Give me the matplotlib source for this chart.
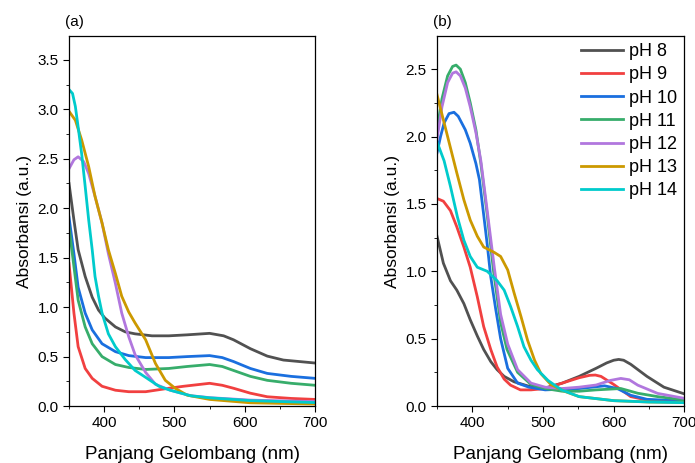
import matplotlib
matplotlib.use('Agg')
import matplotlib.pyplot as plt
from matplotlib.ticker import MultipleLocator, FormatStrFormatter

plt.rcParams.update({
    'font.family': ['Liberation Sans', 'DejaVu Sans'],
    'font.size': 11,
    'axes.linewidth': 0.9,
    'xtick.direction': 'out',
    'ytick.direction': 'out',
    'xtick.major.size': 4,
    'ytick.major.size': 4,
    'xtick.minor.size': 2.5,
    'ytick.minor.size': 2.5,
})

LABELS = ['pH 8', 'pH 9', 'pH 10', 'pH 11', 'pH 12', 'pH 13', 'pH 14']
COLORS = ['#515151', '#F14040', '#1A6FDF', '#37AD6B', '#B177DE', '#CC9900', '#00CBCC']

# Panel (a) spectra: wavelength (nm) and absorbance
a_ph8_x = [350, 357, 363, 373, 383, 392, 401, 416, 430, 444, 468, 492, 518, 550, 570, 584, 608, 632, 655, 700]
a_ph8_y = [2.25, 1.88, 1.58, 1.31, 1.10, 0.97, 0.89, 0.80, 0.75, 0.73, 0.71, 0.71, 0.72, 0.735, 0.71, 0.67, 0.58, 0.505, 0.465, 0.435]

a_ph9_x = [350, 357, 363, 373, 383, 397, 416, 435, 459, 492, 513, 550, 568, 584, 608, 632, 666, 700]
a_ph9_y = [1.44, 0.94, 0.60, 0.38, 0.28, 0.20, 0.16, 0.145, 0.145, 0.18, 0.20, 0.23, 0.21, 0.18, 0.13, 0.094, 0.077, 0.067]

a_ph10_x = [350, 357, 363, 373, 383, 397, 416, 435, 459, 492, 518, 550, 568, 584, 608, 632, 666, 700]
a_ph10_y = [1.91, 1.54, 1.20, 0.94, 0.77, 0.63, 0.55, 0.51, 0.49, 0.49, 0.50, 0.51, 0.49, 0.45, 0.38, 0.33, 0.30, 0.28]

a_ph11_x = [350, 357, 363, 373, 383, 397, 416, 435, 459, 492, 518, 550, 568, 584, 608, 632, 666, 700]
a_ph11_y = [1.81, 1.41, 1.07, 0.80, 0.63, 0.50, 0.42, 0.39, 0.37, 0.38, 0.40, 0.42, 0.40, 0.36, 0.30, 0.26, 0.23, 0.21]

a_ph12_x = [350, 357, 363, 371, 378, 387, 397, 406, 416, 425, 435, 444, 459, 473, 494, 523, 550, 608, 700]
a_ph12_y = [2.40, 2.49, 2.52, 2.47, 2.35, 2.12, 1.85, 1.54, 1.24, 0.94, 0.70, 0.52, 0.34, 0.22, 0.16, 0.105, 0.085, 0.06, 0.045]

a_ph13_x = [350, 359, 368, 378, 387, 397, 406, 416, 425, 435, 444, 459, 473, 487, 501, 518, 550, 608, 700]
a_ph13_y = [2.98, 2.89, 2.69, 2.42, 2.12, 1.85, 1.58, 1.34, 1.11, 0.95, 0.84, 0.67, 0.43, 0.26, 0.18, 0.11, 0.067, 0.033, 0.02]

a_ph14_x = [350, 355, 359, 363, 368, 373, 378, 383, 387, 392, 397, 406, 416, 430, 444, 459, 478, 494, 523, 550, 608, 700]
a_ph14_y = [3.20, 3.16, 3.03, 2.82, 2.55, 2.22, 1.88, 1.58, 1.31, 1.11, 0.94, 0.73, 0.60, 0.47, 0.36, 0.29, 0.20, 0.16, 0.104, 0.083, 0.055, 0.035]

# Panel (b) spectra
b_ph8_x = [350, 359, 369, 378, 388, 397, 407, 416, 426, 435, 445, 459, 478, 500, 527, 551, 575, 590, 600, 607, 614, 624, 647, 671, 700]
b_ph8_y = [1.26, 1.06, 0.93, 0.86, 0.76, 0.64, 0.52, 0.42, 0.33, 0.27, 0.22, 0.18, 0.15, 0.13, 0.17, 0.22, 0.28, 0.32, 0.34, 0.346, 0.34, 0.31, 0.22, 0.14, 0.09]

b_ph9_x = [350, 359, 369, 378, 388, 397, 407, 416, 426, 435, 445, 454, 468, 483, 503, 527, 551, 566, 574, 582, 600, 624, 647, 700]
b_ph9_y = [1.54, 1.52, 1.45, 1.33, 1.18, 1.03, 0.81, 0.59, 0.42, 0.29, 0.20, 0.155, 0.12, 0.12, 0.13, 0.17, 0.21, 0.228, 0.23, 0.22, 0.16, 0.07, 0.045, 0.03]

b_ph10_x = [350, 355, 360, 367, 374, 380, 390, 397, 405, 410, 416, 421, 426, 433, 440, 450, 464, 480, 503, 551, 587, 605, 624, 647, 700]
b_ph10_y = [1.88, 2.00, 2.10, 2.17, 2.18, 2.15, 2.05, 1.95, 1.80, 1.68, 1.42, 1.20, 0.96, 0.72, 0.50, 0.28, 0.17, 0.14, 0.12, 0.13, 0.15, 0.13, 0.08, 0.05, 0.037]

b_ph11_x = [350, 357, 365, 372, 377, 383, 390, 397, 405, 412, 421, 430, 440, 449, 464, 483, 503, 527, 551, 575, 610, 634, 662, 700]
b_ph11_y = [2.05, 2.28, 2.45, 2.52, 2.53, 2.50, 2.40, 2.25, 2.05, 1.80, 1.42, 1.00, 0.62, 0.42, 0.25, 0.16, 0.13, 0.11, 0.11, 0.12, 0.13, 0.095, 0.07, 0.045]

b_ph12_x = [350, 357, 365, 372, 377, 383, 390, 397, 405, 412, 421, 431, 440, 450, 464, 483, 503, 527, 551, 575, 595, 610, 622, 634, 662, 700]
b_ph12_y = [1.98, 2.22, 2.40, 2.47, 2.48, 2.45, 2.36, 2.22, 2.03, 1.82, 1.45, 1.03, 0.68, 0.46, 0.27, 0.17, 0.14, 0.13, 0.14, 0.156, 0.19, 0.205, 0.195, 0.155, 0.094, 0.057]

b_ph13_x = [350, 364, 378, 388, 397, 407, 416, 431, 440, 450, 459, 469, 478, 488, 497, 511, 530, 551, 600, 650, 700]
b_ph13_y = [2.31, 2.02, 1.73, 1.53, 1.38, 1.26, 1.18, 1.14, 1.11, 1.01, 0.84, 0.66, 0.49, 0.34, 0.24, 0.16, 0.11, 0.07, 0.04, 0.03, 0.027]

b_ph14_x = [350, 360, 369, 379, 388, 397, 407, 421, 435, 445, 454, 464, 473, 483, 492, 507, 526, 551, 600, 650, 700]
b_ph14_y = [1.96, 1.82, 1.63, 1.40, 1.23, 1.11, 1.03, 1.00, 0.93, 0.86, 0.74, 0.59, 0.44, 0.34, 0.27, 0.19, 0.12, 0.07, 0.04, 0.03, 0.025]

a_series = [(a_ph8_x, a_ph8_y), (a_ph9_x, a_ph9_y), (a_ph10_x, a_ph10_y), (a_ph11_x, a_ph11_y),
            (a_ph12_x, a_ph12_y), (a_ph13_x, a_ph13_y), (a_ph14_x, a_ph14_y)]
b_series = [(b_ph8_x, b_ph8_y), (b_ph9_x, b_ph9_y), (b_ph10_x, b_ph10_y), (b_ph11_x, b_ph11_y),
            (b_ph12_x, b_ph12_y), (b_ph13_x, b_ph13_y), (b_ph14_x, b_ph14_y)]

fig = plt.figure(figsize=(6.95, 4.63), dpi=100)
ax1 = fig.add_axes([0.0993, 0.123, 0.354, 0.799])
ax2 = fig.add_axes([0.6288, 0.123, 0.356, 0.799])


def style(ax, ymax, ymajor):
    ax.set_xlim(350, 700)
    ax.set_ylim(0, ymax)
    ax.xaxis.set_major_locator(MultipleLocator(100))
    ax.xaxis.set_minor_locator(MultipleLocator(50))
    ax.yaxis.set_major_locator(MultipleLocator(ymajor))
    ax.yaxis.set_minor_locator(MultipleLocator(ymajor / 2))
    ax.yaxis.set_major_formatter(FormatStrFormatter('%.1f'))
    ax.tick_params(which='both', top=False, right=False)
    ax.tick_params(labelsize=11)
    ax.set_xlabel('Panjang Gelombang (nm)', fontsize=13.5, labelpad=11)
    ax.set_ylabel('Absorbansi (a.u.)', fontsize=12.5, labelpad=4)


for (x, y), c, lab in zip(a_series, COLORS, LABELS):
    ax1.plot(x, y, color=c, lw=2, label=lab)
for (x, y), c, lab in zip(b_series, COLORS, LABELS):
    ax2.plot(x, y, color=c, lw=2, label=lab)

style(ax1, 3.74, 0.5)
style(ax2, 2.745, 0.5)

ax1.text(-0.015, 1.02, '(a)', transform=ax1.transAxes, fontsize=11, ha='left', va='bottom')
ax2.text(-0.015, 1.02, '(b)', transform=ax2.transAxes, fontsize=11, ha='left', va='bottom')

ax2.legend(loc='upper right', frameon=False, fontsize=13, handlelength=2.3,
           labelspacing=0.34, handletextpad=0.35, borderaxespad=0.0)

fig.savefig('out.png', dpi=100)
